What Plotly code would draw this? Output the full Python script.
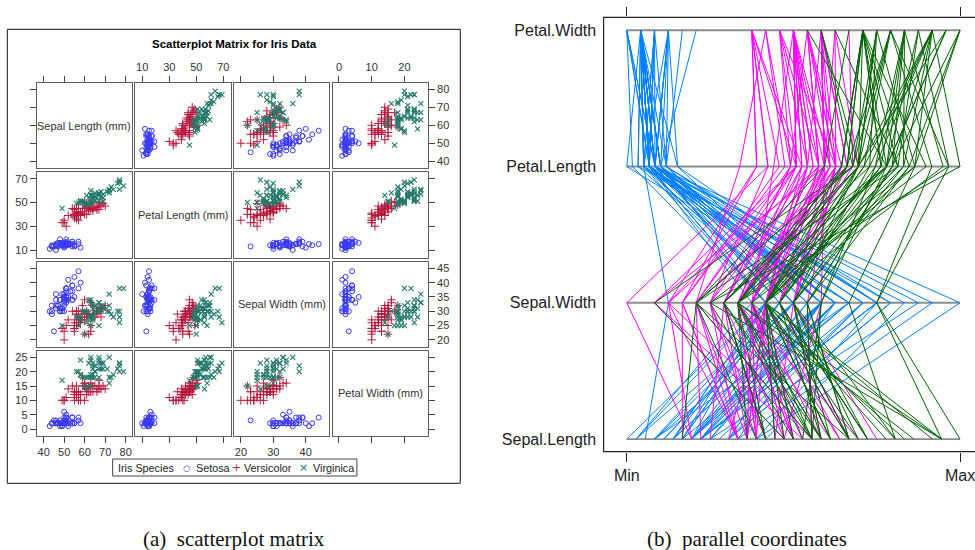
import plotly.graph_objects as go

# ---------------- Data (Fisher's iris, in mm) ----------------
species_names = ["Setosa", "Versicolor", "Virginica"]

sepal_length = [51,49,47,46,50,54,46,50,44,49,54,48,48,43,58,57,54,51,57,51,54,51,46,51,48,50,50,52,52,47,48,54,52,55,49,50,55,49,44,51,50,45,44,50,51,48,51,46,53,50,
                70,64,69,55,65,57,63,49,66,52,50,59,60,61,56,67,56,58,62,56,59,61,63,61,64,66,68,67,60,57,55,55,58,60,54,60,67,63,56,55,55,61,58,50,56,57,57,62,51,57,
                63,58,71,63,65,76,49,73,67,72,65,64,68,57,58,64,65,77,77,60,69,56,77,63,67,72,62,61,64,72,74,79,64,63,61,77,63,64,60,69,67,69,58,68,67,67,63,65,62,59]
sepal_width = [35,30,32,31,36,39,34,34,29,31,37,34,30,30,40,44,39,35,38,38,34,37,36,33,34,30,34,35,34,32,31,34,41,42,31,32,35,36,30,34,35,23,32,35,38,30,38,32,37,33,
               32,32,31,23,28,28,33,24,29,27,20,30,22,29,29,31,30,27,22,25,32,28,25,28,29,30,28,30,29,26,24,24,27,27,30,34,31,23,30,25,26,30,26,23,27,30,29,29,25,28,
               33,27,30,29,30,30,25,29,25,36,32,27,30,25,28,32,30,38,26,22,32,28,28,27,33,32,28,30,28,30,28,38,28,28,26,30,34,31,30,31,31,31,27,32,33,30,25,30,34,30]
petal_length = [14,14,13,15,14,17,14,15,14,15,15,16,14,11,12,15,13,14,17,15,17,15,10,17,19,16,16,15,14,16,16,15,15,14,15,12,13,14,13,15,13,13,13,16,19,14,16,14,15,14,
                47,45,49,40,46,45,47,33,46,39,35,42,40,47,36,44,45,41,45,39,48,40,49,47,43,44,48,50,45,35,38,37,39,51,45,45,47,44,41,40,44,46,40,33,42,42,42,43,30,41,
                60,51,59,56,58,66,45,63,58,61,51,53,55,50,51,53,55,67,69,50,57,49,67,49,57,60,48,49,56,58,61,64,56,51,56,61,56,55,48,54,56,51,51,59,57,52,50,52,54,51]
petal_width = [2,2,2,2,2,4,3,2,2,1,2,2,1,1,2,4,4,3,3,3,2,4,2,5,2,2,4,2,2,2,2,4,1,2,2,2,2,1,2,2,3,3,2,6,4,3,2,2,2,2,
               14,15,15,13,15,13,16,10,13,14,10,15,10,14,13,14,15,10,15,11,18,13,15,12,13,14,14,17,15,10,11,10,12,16,15,16,15,13,13,13,12,14,12,10,13,12,13,13,11,13,
               25,19,21,18,22,21,17,18,18,25,20,19,21,20,24,23,18,22,23,15,23,20,20,18,21,18,18,18,21,16,19,20,22,15,14,23,24,18,18,21,24,23,19,23,25,23,19,20,23,18]
species = ["Setosa"] * 50 + ["Versicolor"] * 50 + ["Virginica"] * 50

# scatterplot-matrix variables (row/column order) with tick values
matrix_labels = ["Sepal Length (mm)", "Petal Length (mm)", "Sepal Width (mm)", "Petal Width (mm)"]
matrix_values = [sepal_length, petal_length, sepal_width, petal_width]
x_tickvals = [[40, 50, 60, 70, 80], [10, 30, 50, 70], [20, 30, 40], [0, 10, 20]]
y_tickvals = [[40, 50, 60, 70, 80], [10, 30, 50, 70], [20, 25, 30, 35, 40, 45], [0, 5, 10, 15, 20, 25]]
x_ranges = [[36.7, 83.1], [5.0, 75.4], [17.9, 47.2], [-1.95, 27.1]]
y_ranges = [[36.1, 83.5], [3.7, 75.4], [17.6, 47.4], [-2.44, 27.3]]

legend_title = "Iris Species"

# parallel coordinates variables (bottom to top)
pc_labels = ["Sepal.Length", "Sepal.Width", "Petal.Length", "Petal.Width"]
pc_values = [sepal_length, sepal_width, petal_length, petal_width]
pc_ticktext = ["Min", "Max"]

# ---------------- Styling ----------------
W, H = 975, 550
def fx(p):
    return p / W
def fy(p):
    return 1 - p / H

SANS = "Arial, Liberation Sans, sans-serif"
marker_style = {
    "Setosa": dict(symbol="circle-open", size=5, color="#3a3af2", line=dict(width=1, color="#3a3af2")),
    "Versicolor": dict(symbol="cross-thin-open", size=6, color="#b81a3c", line=dict(width=1, color="#b81a3c")),
    "Virginica": dict(symbol="x-thin-open", size=5, color="#237a6c", line=dict(width=1.1, color="#237a6c")),
}
legend_glyph = {"Setosa": ("○", 8.5), "Versicolor": ("+", 11), "Virginica": ("×", 11)}
legend_glyph_px = {"Setosa": (187, 195), "Versicolor": (237, 243), "Virginica": (304, 312)}
pc_colors = {"Setosa": "#0080ff", "Versicolor": "#ff00ff", "Virginica": "#006400"}

col_px = [(37, 132.4), (135.9, 231.3), (234.8, 330.1), (333.6, 429)]
row_px = [(83, 168.25), (172.25, 257.5), (261.5, 346.75), (350.75, 436)]

tick_font = dict(family=SANS, size=11, color="#333333")
frame_color = "#5e5e5e"

fig = go.Figure()
layout = {}
annotations = []

for i in range(4):
    for j in range(4):
        k = i * 4 + j + 1
        xa = "x" if k == 1 else f"x{k}"
        ya = "y" if k == 1 else f"y{k}"
        xkey = "xaxis" if k == 1 else f"xaxis{k}"
        ykey = "yaxis" if k == 1 else f"yaxis{k}"

        xax = dict(domain=[fx(col_px[j][0]), fx(col_px[j][1])], range=x_ranges[j], anchor=ya,
                   showgrid=False, zeroline=False, showline=True, mirror=True,
                   linecolor=frame_color, linewidth=1.3, tickfont=tick_font,
                   tickvals=x_tickvals[j], ticklen=6, tickwidth=1, tickcolor="#444444")
        if i == 0:
            xax.update(side="top", ticks="outside", showticklabels=(j % 2 == 1))
        elif i == 3:
            xax.update(side="bottom", ticks="outside", showticklabels=(j % 2 == 0))
        else:
            xax.update(ticks="", showticklabels=False)
        yax = dict(domain=[fy(row_px[i][1]), fy(row_px[i][0])], range=y_ranges[i], anchor=xa,
                   showgrid=False, zeroline=False, showline=True, mirror=True,
                   linecolor=frame_color, linewidth=1.3, tickfont=tick_font,
                   tickvals=y_tickvals[i], ticklen=6, tickwidth=1, tickcolor="#444444")
        if j == 0:
            yax.update(side="left", ticks="outside", showticklabels=(i % 2 == 1))
        elif j == 3:
            yax.update(side="right", ticks="outside", showticklabels=(i % 2 == 0))
        else:
            yax.update(ticks="", showticklabels=False)
        layout[xkey] = xax
        layout[ykey] = yax

        if i == j:
            fig.add_trace(go.Scatter(x=[], y=[], xaxis=xa, yaxis=ya, showlegend=False,
                                     hoverinfo="skip"))
            annotations.append(dict(text=matrix_labels[i], xref=f"{xa} domain", yref=f"{ya} domain",
                                    x=0.5, y=0.5, xanchor="center", yanchor="middle", showarrow=False,
                                    font=dict(family=SANS, size=11, color="#333333")))
            continue
        for s in species_names:
            xs = [v for v, sp in zip(matrix_values[j], species) if sp == s]
            ys = [v for v, sp in zip(matrix_values[i], species) if sp == s]
            fig.add_trace(go.Scatter(x=xs, y=ys, xaxis=xa, yaxis=ya, mode="markers",
                                     marker=marker_style[s], name=s, legendgroup=s,
                                     showlegend=False))

# legend box (SAS style, drawn as a framed row of text keys)
legend_y = 467.5
annotations.append(dict(text=legend_title, xref="paper", yref="paper", x=fx(116), y=fy(legend_y),
                        xanchor="left", yanchor="middle", showarrow=False,
                        font=dict(family=SANS, size=10.8, color="#222222")))
for s in species_names:
    glyph, gsize = legend_glyph[s]
    gx, tx = legend_glyph_px[s]
    annotations.append(dict(text=glyph, xref="paper", yref="paper", x=fx(gx), y=fy(legend_y),
                            xanchor="center", yanchor="middle", showarrow=False,
                            font=dict(family="DejaVu Sans, sans-serif", size=gsize,
                                      color=marker_style[s]["color"])))
    annotations.append(dict(text=s, xref="paper", yref="paper", x=fx(tx), y=fy(legend_y),
                            xanchor="left", yanchor="middle", showarrow=False,
                            font=dict(family=SANS, size=10.8, color="#222222")))

# ---------------- Parallel coordinates ----------------
norm = []
for vals in pc_values:
    lo, hi = min(vals), max(vals)
    norm.append([(v - lo) / (hi - lo) for v in vals])

ref_x, ref_y = [], []
for idx in range(len(pc_labels)):
    ref_x += [0, 1, None]
    ref_y += [idx + 1, idx + 1, None]
fig.add_trace(go.Scatter(x=ref_x, y=ref_y, xaxis="x17", yaxis="y17", mode="lines",
                         line=dict(color="#8c8c8c", width=1.8), showlegend=False, hoverinfo="skip"))

for s in species_names:
    lx, ly = [], []
    for n in range(len(species)):
        if species[n] != s:
            continue
        for idx in range(len(pc_labels)):
            lx.append(norm[idx][n])
            ly.append(idx + 1)
        lx.append(None)
        ly.append(None)
    fig.add_trace(go.Scatter(x=lx, y=ly, xaxis="x17", yaxis="y17", mode="lines",
                             line=dict(color=pc_colors[s], width=1), showlegend=False,
                             hoverinfo="skip"))

pc_font = dict(family=SANS, size=16, color="#222222")
layout["xaxis17"] = dict(domain=[fx(605), 1.0], range=[-0.0709, 1.0359], anchor="y17",
                         showgrid=False, zeroline=False, showline=False, mirror="ticks",
                         tickvals=[0, 1], ticktext=pc_ticktext, ticks="outside", ticklen=9,
                         tickwidth=1, tickcolor="#222222", tickfont=pc_font,
                         ticklabeloverflow="allow")
layout["yaxis17"] = dict(domain=[fy(451.7), fy(17.3)], range=[0.907, 4.095], anchor="x17",
                         showgrid=False, zeroline=False, showline=False,
                         tickvals=[1, 2, 3, 4], ticktext=pc_labels, ticks="",
                         ticklabelstandoff=6, tickfont=pc_font)

shapes = [
    dict(type="rect", xref="paper", yref="paper", x0=fx(7.3), x1=fx(461.7), y0=fy(483.3), y1=fy(29.3),
         line=dict(color="#111111", width=1)),
    dict(type="rect", xref="paper", yref="paper", x0=fx(113), x1=fx(358), y0=fy(476), y1=fy(459),
         line=dict(color="#444444", width=1), fillcolor="white", layer="above"),
    dict(type="rect", xref="paper", yref="paper", x0=fx(605.5), x1=1.05, y0=fy(451.7), y1=fy(17.3),
         line=dict(color="#222222", width=1.2)),
]

annotations += [
    dict(text="<b>Scatterplot Matrix for Iris Data</b>", xref="paper", yref="paper",
         x=fx(235), y=fy(44), xanchor="center", yanchor="middle", showarrow=False,
         font=dict(family=SANS, size=11.5, color="#000000")),
    dict(text="(a)  scatterplot matrix", xref="paper", yref="paper", x=fx(235), y=fy(539),
         xanchor="center", yanchor="middle", showarrow=False,
         font=dict(family="Liberation Serif, serif", size=21, color="#111111")),
    dict(text="(b)  parallel coordinates", xref="paper", yref="paper", x=fx(749), y=fy(539),
         xanchor="center", yanchor="middle", showarrow=False,
         font=dict(family="Liberation Serif, serif", size=21, color="#111111")),
]

fig.update_layout(**layout)
fig.update_layout(
    width=W, height=H, margin=dict(l=0, r=0, t=0, b=0),
    paper_bgcolor="white", plot_bgcolor="rgba(0,0,0,0)",
    shapes=shapes, annotations=annotations, hovermode=False, showlegend=False,
)

fig.write_html("out.html")
